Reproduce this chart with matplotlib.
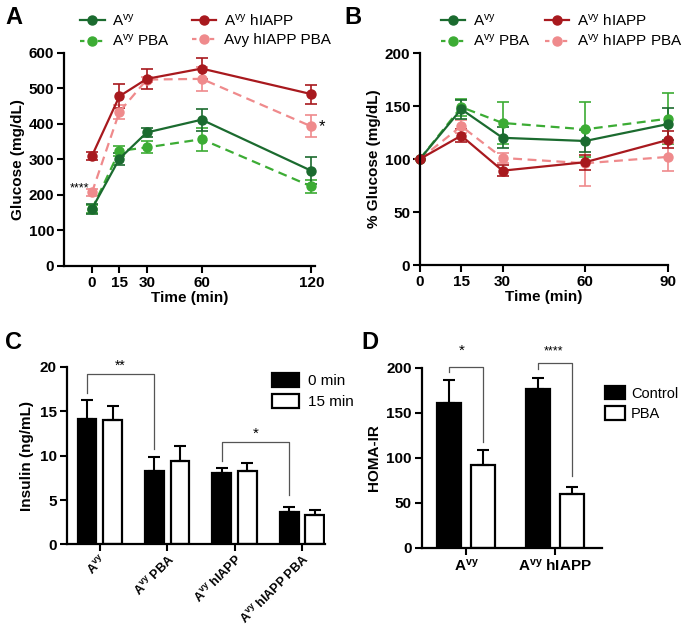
import matplotlib
matplotlib.use("Agg")
import matplotlib.pyplot as plt
from matplotlib.patches import Patch
from matplotlib.lines import Line2D
import numpy as np

plt.rcParams['font.family'] = ['Liberation Sans', 'DejaVu Sans']
plt.rcParams['mathtext.fontset'] = 'custom'
plt.rcParams['mathtext.rm'] = 'Liberation Sans'
plt.rcParams['mathtext.default'] = 'regular'

# ---- panel A : glucose tolerance (mg/dL)
time_a = [0, 15, 30, 60, 120]
avy_a = [161, 302, 376, 412, 268]
avy_a_err = [14, 17, 12, 31, 38]
avy_pba_a = [160, 324, 334, 357, 224]
avy_pba_a_err = [12, 13, 17, 32, 19]
hiapp_a = [310, 478, 527, 556, 484]
hiapp_a_err = [11, 34, 29, 30, 27]
hiapp_pba_a = [207, 434, 525, 527, 393]
hiapp_pba_a_err = [10, 20, 6, 33, 31]

# ---- panel B : insulin tolerance (% glucose)
time_b = [0, 15, 30, 60, 90]
avy_b = [100, 147, 120, 117, 133]
avy_b_err = [0, 9, 10, 10, 15]
avy_pba_b = [100, 149, 134, 128, 138]
avy_pba_b_err = [0, 8, 20, 26, 24]
hiapp_b = [100, 122, 89, 97, 118]
hiapp_b_err = [0, 6, 5, 7, 8]
hiapp_pba_b = [100, 131, 101, 96, 102]
hiapp_pba_b_err = [0, 6, 5, 21, 13]

# ---- panel C : insulin
groups_c = ['A$^{vy}$', 'A$^{vy}$ PBA', 'A$^{vy}$ hIAPP', 'A$^{vy}$ hIAPP PBA']
insulin_0 = [14.1, 8.25, 8.0, 3.7]
insulin_0_err = [2.15, 1.6, 0.6, 0.55]
insulin_15 = [14.0, 9.4, 8.3, 3.3]
insulin_15_err = [1.55, 1.7, 0.9, 0.6]

# ---- panel D : HOMA-IR
groups_d = ['A$^{vy}$', 'A$^{vy}$ hIAPP']
homa_ctrl = [161, 176]
homa_ctrl_err = [25, 12]
homa_pba = [92, 59]
homa_pba_err = [17, 8]

dark_green = '#1b6b2f'
light_green = '#3cac34'
dark_red = '#a8191e'
pink = '#ef8a8c'
bracket_col = '#555555'
tick_fs = 11
label_fs = 11
legend_fs = 11


def style_axes(ax):
    for s in ['top', 'right']:
        ax.spines[s].set_visible(False)
    for s in ['left', 'bottom']:
        ax.spines[s].set_linewidth(1.6)
    ax.tick_params(width=1.5, length=5, labelsize=tick_fs, direction='out', pad=2)
    for lab in ax.get_xticklabels() + ax.get_yticklabels():
        lab.set_fontweight('bold')


def plot_series(ax, x, y, err, color, ls):
    cont = ax.errorbar(x, y, yerr=err, color=color, ls=ls, lw=1.6, marker='o', ms=6.5,
                       capsize=4, elinewidth=1.2, capthick=1.2,
                       dashes=(4, 2.5) if ls == '--' else (None, None))
    for art in cont.get_children():
        art.set_clip_on(False)


fig = plt.figure(figsize=(6.85, 6.31), dpi=100)

# ================= A
ax_a = fig.add_axes([0.0934, 0.5785, 0.366, 0.3376])
plot_series(ax_a, time_a, avy_pba_a, avy_pba_a_err, light_green, '--')
plot_series(ax_a, time_a, hiapp_pba_a, hiapp_pba_a_err, pink, '--')
plot_series(ax_a, time_a, avy_a, avy_a_err, dark_green, '-')
plot_series(ax_a, time_a, hiapp_a, hiapp_a_err, dark_red, '-')
ax_a.set_xlim(-15.3, 121.8)
ax_a.set_ylim(0, 600)
ax_a.set_xticks(time_a)
ax_a.set_yticks(np.arange(0, 601, 100))
ax_a.set_xlabel('Time (min)', fontsize=label_fs, fontweight='bold', labelpad=1)
ax_a.set_ylabel('Glucose (mg/dL)', fontsize=label_fs, fontweight='bold', labelpad=3)
style_axes(ax_a)
ax_a.text(-1.5, hiapp_pba_a[0] + 10, '****', ha='right', va='center', fontsize=9)
ax_a.text(124, hiapp_pba_a[-1], '*', ha='left', va='center', fontsize=12)

handles_a = [Line2D([], [], color=dark_green, lw=1.6, marker='o', ms=6.5),
             Line2D([], [], color=light_green, lw=1.6, ls='--', marker='o', ms=6.5, dashes=(2, 2)),
             Line2D([], [], color=dark_red, lw=1.6, marker='o', ms=6.5),
             Line2D([], [], color=pink, lw=1.6, ls='--', marker='o', ms=6.5, dashes=(2, 2))]
labels_a = ['A$^{vy}$', 'A$^{vy}$ PBA', 'A$^{vy}$ hIAPP', 'Avy hIAPP PBA']
ax_a.legend(handles_a, labels_a, ncol=2, loc='lower left', bbox_to_anchor=(0.04, 0.99),
            frameon=False, fontsize=legend_fs, handlelength=1.6, handletextpad=0.5,
            columnspacing=1.4, labelspacing=0.3, borderaxespad=0)

# ================= B
ax_b = fig.add_axes([0.613, 0.580, 0.362, 0.336])
plot_series(ax_b, time_b, avy_pba_b, avy_pba_b_err, light_green, '--')
plot_series(ax_b, time_b, hiapp_pba_b, hiapp_pba_b_err, pink, '--')
plot_series(ax_b, time_b, avy_b, avy_b_err, dark_green, '-')
plot_series(ax_b, time_b, hiapp_b, hiapp_b_err, dark_red, '-')
ax_b.set_xlim(0, 90)
ax_b.set_ylim(0, 200)
ax_b.set_xticks(time_b)
ax_b.set_yticks(np.arange(0, 201, 50))
ax_b.set_xlabel('Time (min)', fontsize=label_fs, fontweight='bold', labelpad=1)
ax_b.set_ylabel('% Glucose (mg/dL)', fontsize=label_fs, fontweight='bold', labelpad=3)
style_axes(ax_b)
labels_b = ['A$^{vy}$', 'A$^{vy}$ PBA', 'A$^{vy}$ hIAPP', 'A$^{vy}$ hIAPP PBA']
ax_b.legend(handles_a, labels_b, ncol=2, loc='lower left', bbox_to_anchor=(0.06, 0.99),
            frameon=False, fontsize=legend_fs, handlelength=1.6, handletextpad=0.5,
            columnspacing=0.9, labelspacing=0.3, borderaxespad=0)

# ================= C
ax_c = fig.add_axes([0.0974, 0.1372, 0.377, 0.2812])
xc = np.arange(len(groups_c))
bw = 0.28
off = 0.19
ekw = dict(ecolor='black', elinewidth=1.5, capsize=4, capthick=1.5)
ax_c.bar(xc - off, insulin_0, bw, color='black', edgecolor='black', lw=1.6,
         yerr=[np.zeros(4), insulin_0_err], error_kw=ekw)
ax_c.bar(xc + off, insulin_15, bw, color='white', edgecolor='black', lw=1.6,
         yerr=[np.zeros(4), insulin_15_err], error_kw=ekw)
ax_c.set_xlim(-0.49, 3.34)
ax_c.set_ylim(0, 20)
ax_c.set_yticks(np.arange(0, 21, 5))
ax_c.set_xticks(xc)
ax_c.set_xticklabels(groups_c, rotation=45, ha='right', rotation_mode='anchor')
ax_c.set_ylabel('Insulin (ng/mL)', fontsize=label_fs, fontweight='bold', labelpad=4)
style_axes(ax_c)
ax_c.tick_params(axis='x', pad=1)
for lab in ax_c.get_xticklabels():
    lab.set_fontsize(9)

# significance brackets
ax_c.plot([xc[0] - off, xc[0] - off, xc[1] - off, xc[1] - off], [17.1, 19.2, 19.2, 10.8],
          color=bracket_col, lw=0.9)
ax_c.text((xc[0] + xc[1]) / 2 - off, 19.3, '**', ha='center', va='bottom', fontsize=10)
ax_c.plot([xc[2] - off, xc[2] - off, xc[3] - off, xc[3] - off], [9.4, 11.6, 11.6, 5.6],
          color=bracket_col, lw=0.9)
ax_c.text((xc[2] + xc[3]) / 2 - off, 11.7, '*', ha='center', va='bottom', fontsize=11)

handles_c = [Patch(facecolor='black', edgecolor='black', lw=1.6),
             Patch(facecolor='white', edgecolor='black', lw=1.6)]
ax_c.legend(handles_c, ['0 min', '15 min'], loc='upper left', bbox_to_anchor=(0.77, 1.0),
            frameon=False, fontsize=legend_fs, handlelength=1.8, handleheight=1.0,
            handletextpad=0.6, labelspacing=0.4, borderaxespad=0)

# ================= D
ax_d = fig.add_axes([0.6156, 0.1323, 0.2628, 0.285])
xd = np.arange(len(groups_d))
bw_d = 0.27
off_d = 0.19
ax_d.bar(xd - off_d, homa_ctrl, bw_d, color='black', edgecolor='black', lw=1.6,
         yerr=[np.zeros(2), homa_ctrl_err], error_kw=ekw)
ax_d.bar(xd + off_d, homa_pba, bw_d, color='white', edgecolor='black', lw=1.6,
         yerr=[np.zeros(2), homa_pba_err], error_kw=ekw)
ax_d.set_xlim(-0.5, 1.52)
ax_d.set_ylim(0, 200)
ax_d.set_yticks(np.arange(0, 201, 50))
ax_d.set_xticks(xd)
ax_d.set_xticklabels(groups_d)
ax_d.set_ylabel('HOMA-IR', fontsize=label_fs, fontweight='bold', labelpad=4)
style_axes(ax_d)

ax_d.plot([xd[0] - off_d, xd[0] - off_d, xd[0] + off_d, xd[0] + off_d], [195, 201, 201, 117],
          color=bracket_col, lw=0.9, clip_on=False)
ax_d.text(xd[0] - 0.05, 211, '*', ha='center', va='bottom', fontsize=11)
ax_d.plot([xd[1] - off_d, xd[1] - off_d, xd[1] + off_d, xd[1] + off_d], [198, 205.5, 205.5, 79],
          color=bracket_col, lw=0.9, clip_on=False)
ax_d.text(xd[1] - 0.02, 211, '****', ha='center', va='bottom', fontsize=9)

ax_d.legend(handles_c, ['Control', 'PBA'], loc='upper left', bbox_to_anchor=(0.985, 0.93),
            frameon=False, fontsize=10.5, handlelength=1.4, handleheight=1.0,
            handletextpad=0.4, labelspacing=0.4, borderaxespad=0)

# panel letters
for letter, x, y in [('A', 0.008, 0.972), ('B', 0.503, 0.972), ('C', 0.008, 0.457), ('D', 0.528, 0.457)]:
    fig.text(x, y, letter, fontsize=17, fontweight='bold', va='center', ha='left')

fig.savefig('out.png', dpi=100)
